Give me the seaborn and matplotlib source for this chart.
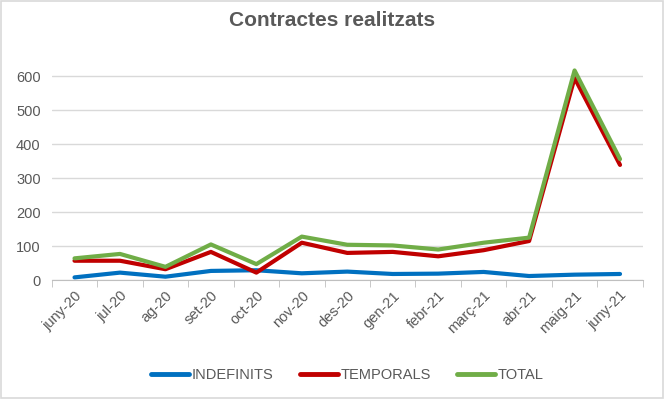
import pandas as pd
import matplotlib.pyplot as plt
import seaborn as sns

months = ['juny-20', 'jul-20', 'ag-20', 'set-20', 'oct-20', 'nov-20', 'des-20',
          'gen-21', 'febr-21', 'març-21', 'abr-21', 'maig-21', 'juny-21']
indefinits = [8, 22, 10, 27, 29, 20, 25, 18, 19, 24, 12, 16, 18]
temporals = [57, 57, 32, 83, 22, 110, 80, 83, 70, 88, 115, 595, 339]
total = [64, 77, 39, 105, 47, 128, 104, 102, 90, 110, 125, 617, 356]

df = pd.DataFrame({'mes': months, 'INDEFINITS': indefinits,
                   'TEMPORALS': temporals, 'TOTAL': total})
long = df.melt(id_vars='mes', var_name='serie', value_name='valor')

sns.set_style('white')
plt.rcParams['font.family'] = ['Liberation Sans', 'DejaVu Sans']
grey = '#595959'

fig = plt.figure(figsize=(6.64, 3.99), dpi=100)
ax = fig.add_axes([0.078, 0.298, 0.89, 0.545])

pal = {'INDEFINITS': '#0070C0', 'TEMPORALS': '#C00000', 'TOTAL': '#70AD47'}
sns.lineplot(data=long, x='mes', y='valor', hue='serie', palette=pal,
             linewidth=3, sort=False, ax=ax, legend=True)
for ln in ax.lines:
    ln.set_clip_on(False)
    ln.set_solid_capstyle('round')

ax.set_xlim(-0.5, len(months) - 0.5)
ax.set_ylim(0, 640)
ax.set_yticks(range(0, 700, 100))
ax.yaxis.grid(True, color='#d9d9d9', linewidth=1)
ax.set_axisbelow(True)
ax.set_xlabel('')
ax.set_ylabel('')
for s in ['top', 'right', 'left']:
    ax.spines[s].set_visible(False)
ax.spines['bottom'].set_color('#bfbfbf')

ax.set_xticks([i - 0.5 for i in range(len(months) + 1)], minor=True)
ax.tick_params(axis='x', which='minor', length=5, color='#bfbfbf', bottom=True)
ax.tick_params(axis='x', which='major', length=0, pad=6)
ax.set_xticks(range(len(months)))
ax.set_xticklabels(months, rotation=45, ha='right', rotation_mode='anchor',
                   fontsize=10.5, color=grey)
ax.tick_params(axis='y', length=0, labelsize=10.5, labelcolor=grey, pad=8)

fig.text(0.5, 0.948, 'Contractes realitzats', ha='center', va='center',
         fontsize=15, fontweight='bold', color=grey)

leg = ax.legend(loc='center', bbox_to_anchor=(0.5, -0.435), ncol=3,
                frameon=False, fontsize=10.5, handlelength=2.6,
                handletextpad=0.2, columnspacing=1.8)
for t in leg.get_texts():
    t.set_color(grey)
for h in leg.get_lines():
    h.set_linewidth(3.5)

fig.patches.append(plt.Rectangle((0.002, 0.002), 0.996, 0.996,
                                 transform=fig.transFigure, fill=False,
                                 edgecolor='#d9d9d9', linewidth=1.2))
fig.savefig('out.png', dpi=100)
